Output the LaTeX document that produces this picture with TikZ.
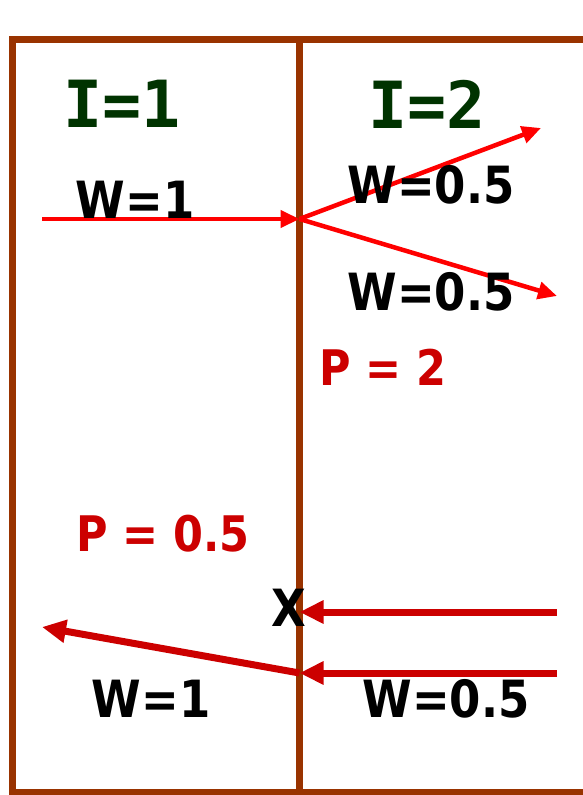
\documentclass[tikz,border=0pt]{standalone}
\usepackage{fontspec}
\usepackage{graphicx}
\setmainfont{DejaVu Sans}
\newfontfamily\labelfont{DejaVu Sans Bold}
\newfontfamily\monobold{DejaVu Sans Mono Bold}
\newcommand{\tallbox}[1]{\scalebox{1}[1.14]{#1}}
\usetikzlibrary{arrows.meta}
\definecolor{framebrown}{HTML}{993300}
\definecolor{titlegreen}{HTML}{003300}
\definecolor{brightred}{HTML}{FF0000}
\definecolor{darkred}{HTML}{CC0000}
\tikzset{
  frameline/.style={draw=framebrown, line width=7pt},
  title/.style={text=titlegreen, font=\monobold\fontsize{65}{65}\selectfont, inner sep=0pt},
  wlabel/.style={text=black, font=\labelfont\fontsize{45}{45}\selectfont, inner sep=0pt},
  plabel/.style={text=darkred, font=\labelfont\fontsize{43}{43}\selectfont, inner sep=0pt},
  outray/.style={draw=brightred, line width=4.5pt, -{Triangle[length=19pt,width=17pt]}},
  inray/.style={draw=darkred, line width=7pt, -{Triangle[length=24pt,width=22pt]}},
}
\begin{document}
\begin{tikzpicture}[x=1pt,y=-1pt]
\clip (0,0) rectangle (583,795);
\fill[white] (0,0) rectangle (583,795);
% frame
\draw[frameline] (583,39) -- (12,39) -- (12,792) -- (583,792);
\draw[frameline] (299.5,39) -- (299.5,792);
% titles
\node[title] (i1) at (122,104) {I=1};
\node[title] (i2) at (427,104) {I=2};
% upper part
\coordinate (src) at (42,219);
\coordinate (hit) at (299.5,219);
\coordinate (up) at (541,128);
\coordinate (down) at (557,296);
\draw[outray] (src) -- (hit);
\draw[outray] (hit) -- (up);
\draw[outray] (hit) -- (down);
\node[wlabel] (w1) at (135,200) {\tallbox{W=1}};
\node[wlabel] (w05a) at (431,185) {\tallbox{W=0.5}};
\node[wlabel] (w05b) at (431,292) {\tallbox{W=0.5}};
\node[plabel] (p2) at (383,367) {\tallbox{P = 2}};
% lower part
\node[plabel] (p05) at (163,534) {\tallbox{P = 0.5}};
\node[wlabel] (x) at (289,608) {\tallbox{X}};
\coordinate (r1) at (557,612);
\coordinate (k1) at (299.5,612);
\coordinate (r2) at (557,673);
\coordinate (k2) at (299.5,673);
\coordinate (back) at (42,627);
\draw[inray] (r1) -- (k1);
\draw[inray] (r2) -- (k2);
\draw[inray] (k2) -- (back);
\node[wlabel] (w1b) at (151,699) {\tallbox{W=1}};
\node[wlabel] (w05c) at (446,699) {\tallbox{W=0.5}};
\end{tikzpicture}
\end{document}
